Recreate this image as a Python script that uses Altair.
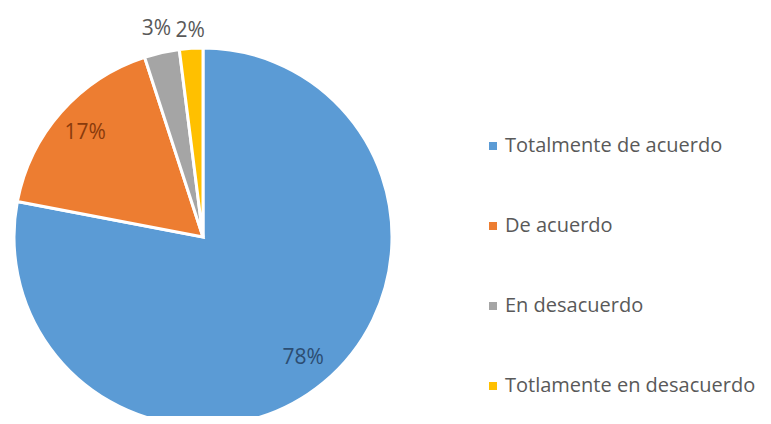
import altair as alt
import pandas as pd

categories = ["Totalmente de acuerdo", "De acuerdo", "En desacuerdo", "Totlamente en desacuerdo"]
values = [78, 17, 3, 2]
labels = ["78%", "17%", "3%", "2%"]
colors = ["#5B9BD5", "#ED7D31", "#A5A5A5", "#FFC000"]
label_colors = ["#2C4D72", "#8A3B0C", "#595959", "#595959"]

df = pd.DataFrame({
    "cat": categories,
    "value": values,
    "label": labels,
    "order": list(range(len(categories))),
})

CX, CY, R = 195, 229, 189
TOTAL = sum(values)
theta_scale = alt.Scale(domain=[0, TOTAL], range=[0, 6.283185307])

pie = alt.Chart(df).mark_arc(radius=R, stroke="white", strokeWidth=3).encode(
    theta=alt.Theta("value:Q", stack=True, scale=theta_scale),
    order=alt.Order("order:Q"),
    x=alt.value(CX),
    y=alt.value(CY),
    color=alt.Color(
        "cat:N",
        sort=categories,
        scale=alt.Scale(domain=categories, range=colors),
        legend=alt.Legend(
            title=None,
            orient="none",
            legendX=475,
            legendY=128,
            padding=0,
            symbolType="square",
            symbolSize=64,
            symbolStrokeWidth=0,
            labelFont="Open Sans",
            labelFontSize=20,
            labelColor="#595959",
            labelOffset=2,
            rowPadding=60,
            labelLimit=400,
        ),
    ),
)

text = alt.Chart(df).transform_window(
    cum="sum(value)", sort=[alt.SortField("order")]
).transform_calculate(
    mid="datum.cum - datum.value / 2",
    r="datum.value < 2.5 ? 206 : (datum.value < 5 ? 213 : 157)",
).mark_text(font="Open Sans", fontSize=21).encode(
    theta=alt.Theta("mid:Q", stack=False, scale=theta_scale),
    x=alt.value(CX),
    y=alt.value(CY),
    radius=alt.Radius("r:Q", scale=None),
    text="label:N",
    color=alt.Color("label:N", scale=alt.Scale(domain=labels, range=label_colors), legend=None),
)

chart = alt.layer(pie, text).resolve_scale(color="independent").properties(
    width=755,
    height=408,
    padding=0,
    background="white",
    autosize=alt.AutoSizeParams(type="none"),
).configure_view(stroke=None)

chart.save("out.html", embed_options={"renderer": "svg", "actions": False})
